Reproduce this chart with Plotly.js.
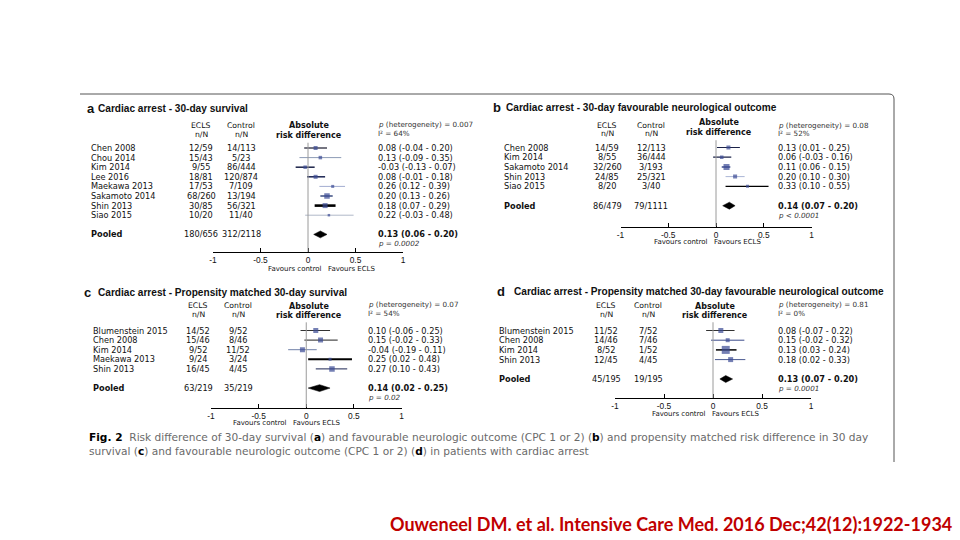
<!DOCTYPE html>
<html><head><meta charset="utf-8">
<script src="https://cdn.plot.ly/plotly-3.0.1.min.js"></script>
<style>body{margin:0;background:#fff}#chart{width:960px;height:540px}</style>
</head><body><div id="chart"></div>
<script>
// ---------- DATA ----------
// Panel a
const aTitle = "Cardiac arrest - 30-day survival";
const aStudies = ["Chen 2008","Chou 2014","Kim 2014","Lee 2016","Maekawa 2013","Sakamoto 2014","Shin 2013","Siao 2015"];
const aEcls = ["12/59","15/43","9/55","18/81","17/53","68/260","30/85","10/20"];
const aControl = ["14/113","5/23","86/444","120/874","7/109","13/194","56/321","11/40"];
const aEst = [0.08,0.13,-0.03,0.08,0.26,0.20,0.18,0.22];
const aLo = [-0.04,-0.09,-0.13,-0.01,0.12,0.13,0.07,-0.03];
const aHi = [0.20,0.35,0.07,0.18,0.39,0.26,0.29,0.48];
const aPooledN = ["180/656","312/2118"];
const aPooledRD = [0.13,0.06,0.20];
const aPooledP = "= 0.0002";
const aHet = ["= 0.007","64%"];
// Panel b
const bTitle = "Cardiac arrest - 30-day favourable neurological outcome";
const bStudies = ["Chen 2008","Kim 2014","Sakamoto 2014","Shin 2013","Siao 2015"];
const bEcls = ["14/59","8/55","32/260","24/85","8/20"];
const bControl = ["12/113","36/444","3/193","25/321","3/40"];
const bEst = [0.13,0.06,0.11,0.20,0.33];
const bLo = [0.01,-0.03,0.06,0.10,0.10];
const bHi = [0.25,0.16,0.15,0.30,0.55];
const bPooledN = ["86/479","79/1111"];
const bPooledRD = [0.14,0.07,0.20];
const bPooledP = "< 0.0001";
const bHet = ["= 0.08","52%"];
// Panel c
const cTitle = "Cardiac arrest - Propensity matched 30-day survival";
const cStudies = ["Blumenstein 2015","Chen 2008","Kim 2014","Maekawa 2013","Shin 2013"];
const cEcls = ["14/52","15/46","9/52","9/24","16/45"];
const cControl = ["9/52","8/46","11/52","3/24","4/45"];
const cEst = [0.10,0.15,-0.04,0.25,0.27];
const cLo = [-0.06,-0.02,-0.19,0.02,0.10];
const cHi = [0.25,0.33,0.11,0.48,0.43];
const cPooledN = ["63/219","35/219"];
const cPooledRD = [0.14,0.02,0.25];
const cPooledP = "= 0.02";
const cHet = ["= 0.07","54%"];
// Panel d
const dTitle = "Cardiac arrest - Propensity matched 30-day favourable neurological outcome";
const dStudies = ["Blumenstein 2015","Chen 2008","Kim 2014","Shin 2013"];
const dEcls = ["11/52","14/46","8/52","12/45"];
const dControl = ["7/52","7/46","1/52","4/45"];
const dEst = [0.08,0.15,0.13,0.18];
const dLo = [-0.07,-0.02,0.03,0.02];
const dHi = [0.22,0.32,0.24,0.33];
const dPooledN = ["45/195","19/195"];
const dPooledRD = [0.13,0.07,0.20];
const dPooledP = "= 0.0001";
const dHet = ["= 0.81","0%"];
// Axis ticks
const tickVals = [-1,-0.5,0,0.5,1];
const tickText = ["-1","-0.5","0","0.5","1"];
const caption1 = "<b style='color:#000'>Fig. 2</b>  Risk difference of 30-day survival (<b style='color:#000'>a</b>) and favourable neurologic outcome (CPC 1 or 2) (<b style='color:#000'>b</b>) and propensity matched risk difference in 30 day";
const caption2 = "survival (<b style='color:#000'>c</b>) and favourable neurologic outcome (CPC 1 or 2) (<b style='color:#000'>d</b>) in patients with cardiac arrest";
const citation = "Ouweneel DM. et al. Intensive Care Med. 2016 Dec;42(12):1922-1934";

// ---------- STYLES ----------
const aSize = [4,3.5,3.5,4,3,5.5,5,2.5];
const aLineC = ["#1a1a2e","#8d9bb5","#1b2248","#1b2452","#a3add0","#5c6a96","#000000","#b0b8c8"];
const aLineW = [1.2,1,1.5,1.5,1,1.8,2.6,1];
const bSize = [4,3.5,6,4,3];
const bLineC = ["#1b2248","#1b2248","#3b4a8a","#aab6d6","#000000"];
const bLineW = [1.2,1.2,1.5,1,1.2];
const cSize = [5,5,5,3,5.5];
const cLineC = ["#333333","#222222","#7080a8","#000000","#1b2452"];
const cLineW = [1,1,1,2,1];
const dSize = [5,4,8,5];
const dLineC = ["#333333","#3b4a8a","#000000","#4b5a90"];
const dLineW = [1,1,1.5,1];

const W = 960, H = 540;
const F = "'Liberation Sans', Arial, sans-serif";
const FD = "'DejaVu Sans', sans-serif";
const px = v => v / W, py = v => 1 - v / H;

const panels = [
  {id:"", letter:"a", title:aTitle, studies:aStudies, ecls:aEcls, ctrl:aControl, est:aEst, lo:aLo, hi:aHi,
   pooledN:aPooledN, pooledRD:aPooledRD, pooledP:aPooledP, het:aHet, size:aSize, lc:aLineC, lw:aLineW,
   xL:213, xR:403, y0:148, dy:9.6, yAxis:252, yTop:136, pIdx:9, zTop:-0.55,
   letterX:86, titleX:97, titleY:109, nameX:90, eclsX:201, ctrlX:241, absX:309, ciX:376.5,
   h1:125.5, h2:134.5, a1:125.5, a2:135, het1:124.5, het2:133.5, favX:325, favY:269},
  {id:"2", letter:"b", title:bTitle, studies:bStudies, ecls:bEcls, ctrl:bControl, est:bEst, lo:bLo, hi:bHi,
   pooledN:bPooledN, pooledRD:bPooledRD, pooledP:bPooledP, het:bHet, size:bSize, lc:bLineC, lw:bLineW,
   xL:620.5, xR:811.5, y0:147.5, dy:9.7, yAxis:226.5, yTop:136, pIdx:6, zTop:-0.75,
   letterX:492, titleX:505, titleY:108, nameX:502.5, eclsX:607, ctrlX:651, absX:719, ciX:777,
   h1:125, h2:134, a1:122.5, a2:132, het1:125, het2:134, favX:711, favY:242},
  {id:"3", letter:"c", title:cTitle, studies:cStudies, ecls:cEcls, ctrl:cControl, est:cEst, lo:cLo, hi:cHi,
   pooledN:cPooledN, pooledRD:cPooledRD, pooledP:cPooledP, het:cHet, size:cSize, lc:cLineC, lw:cLineW,
   xL:211, xR:401.5, y0:330.5, dy:9.6, yAxis:407.5, yTop:318, pIdx:6, zTop:-0.85,
   letterX:83, titleX:97, titleY:292, nameX:91.5, eclsX:198, ctrlX:238, absX:309, ciX:367,
   h1:305.5, h2:314.5, a1:306, a2:315.5, het1:304.5, het2:313.5, favX:290, favY:423},
  {id:"4", letter:"d", title:dTitle, studies:dStudies, ecls:dEcls, ctrl:dControl, est:dEst, lo:dLo, hi:dHi,
   pooledN:dPooledN, pooledRD:dPooledRD, pooledP:dPooledP, het:dHet, size:dSize, lc:dLineC, lw:dLineW,
   xL:615, xR:811, y0:330.5, dy:9.7, yAxis:398, yTop:318, pIdx:5, zTop:-0.85,
   letterX:496, titleX:513, titleY:291.5, nameX:498, eclsX:606, ctrlX:648, absX:715, ciX:777,
   h1:305.5, h2:314.5, a1:306, a2:315.5, het1:304.5, het2:313.5, favX:709, favY:414}
];

const traces = [], annotations = [], shapes = [];
const layout = {
  width: W, height: H, margin:{l:0,r:0,t:0,b:0}, showlegend:false,
  paper_bgcolor:"#fff", plot_bgcolor:"rgba(0,0,0,0)", font:{family:F}
};

function T(x, y, text, size, o) {
  o = o || {};
  annotations.push({xref:"paper", yref:"paper", x:px(x), y:py(y), text:text, showarrow:false,
    xanchor:o.anchor || "left", yanchor:"middle", borderpad:0,
    font:{family:o.family || F, size:size, color:o.color || "#111"}});
}
const fmt = v => v.toFixed(2);
const ciLabel = (e,l,h) => fmt(e) + " (" + fmt(l) + " - " + fmt(h) + ")";

panels.forEach(p => {
  const xa = "x" + p.id, ya = "y" + p.id;
  const yBottom = (p.yAxis - p.y0) / p.dy, yTopV = (p.yTop - p.y0) / p.dy;
  layout["xaxis" + p.id] = {domain:[px(p.xL), px(p.xR)], range:[-1,1], anchor:ya,
    tickvals:tickVals, ticktext:tickText, showline:true, linecolor:"#000", linewidth:1,
    ticks:"inside", ticklen:4, tickcolor:"#000", tickwidth:1, showgrid:false, zeroline:false,
    tickfont:{family:F, size:8.4, color:"#111"}, fixedrange:true};
  layout["yaxis" + p.id] = {domain:[py(p.yAxis), py(p.yTop)], range:[yBottom, yTopV], anchor:xa,
    visible:false, fixedrange:true};
  // zero line
  shapes.push({type:"line", xref:xa, yref:ya, x0:0, x1:0, y0:p.zTop, y1:yBottom,
    line:{color:"#9a9a9a", width:1}});
  // CI lines
  p.studies.forEach((s,i) => {
    traces.push({type:"scatter", mode:"lines", xaxis:xa, yaxis:ya, x:[p.lo[i], p.hi[i]], y:[i,i],
      line:{color:p.lc[i], width:p.lw[i]}, hoverinfo:"skip"});
  });
  // point estimates
  traces.push({type:"scatter", mode:"markers", xaxis:xa, yaxis:ya, x:p.est, y:p.studies.map((s,i)=>i),
    marker:{symbol:"square", size:p.size, color:"#3b4a94", line:{width:0}}, hoverinfo:"skip"});
  // pooled diamond
  const [pe, pl, ph] = p.pooledRD, k = p.pIdx, hh = 0.36;
  traces.push({type:"scatter", mode:"lines", xaxis:xa, yaxis:ya, x:[pl,pe,ph,pe,pl], y:[k,k-hh,k,k+hh,k],
    fill:"toself", fillcolor:"#000", line:{color:"#000", width:0.5}, hoverinfo:"skip"});

  // texts
  T(p.letterX, p.titleY, "<b>" + p.letter + "</b>", 13);
  T(p.titleX, p.titleY, "<b>" + p.title + "</b>", 10.1);
  T(p.eclsX, p.h1, "ECLS", 7.7, {anchor:"center", family:FD});
  T(p.eclsX, p.h2, "n/N", 7.7, {anchor:"center", family:FD});
  T(p.ctrlX, p.h1, "Control", 7.7, {anchor:"center", family:FD});
  T(p.ctrlX, p.h2, "n/N", 7.7, {anchor:"center", family:FD});
  T(p.absX, p.a1, "<b>Absolute</b>", 8, {anchor:"center", family:FD});
  T(p.absX, p.a2, "<b>risk difference</b>", 8, {anchor:"center", family:FD});
  T(p.ciX, p.het1, "<i>p</i> (heterogeneity) " + p.het[0], 7.2, {color:"#333", family:FD});
  T(p.ciX, p.het2, "I\u00b2 = " + p.het[1], 7.2, {color:"#333", family:FD});
  p.studies.forEach((s,i) => {
    const y = p.y0 + i * p.dy;
    T(p.nameX, y, s, 8.2, {family:FD});
    T(p.eclsX, y, p.ecls[i], 8.2, {anchor:"center", family:FD});
    T(p.ctrlX, y, p.ctrl[i], 8.2, {anchor:"center", family:FD});
    T(p.ciX, y, ciLabel(p.est[i], p.lo[i], p.hi[i]), 8.2, {family:FD});
  });
  const yp = p.y0 + k * p.dy;
  T(p.nameX, yp, "<b>Pooled</b>", 8.2, {family:FD});
  T(p.eclsX, yp, p.pooledN[0], 8.2, {anchor:"center", family:FD});
  T(p.ctrlX, yp, p.pooledN[1], 8.2, {anchor:"center", family:FD});
  T(p.ciX, yp, "<b>" + ciLabel(pe, pl, ph) + "</b>", 8.2, {family:FD});
  T(p.ciX, yp + 9.4, "<i>p " + p.pooledP + "</i>", 7.2, {color:"#333", family:FD});
  T(p.favX - 2, p.favY, "Favours control", 7, {anchor:"right", family:FD});
  T(p.favX + 2, p.favY, "Favours ECLS", 7, {family:FD});
});

// caption and citation
T(88, 437, caption1, 10.6, {family:FD, color:"#6a6a6a"});
T(88, 450.5, caption2, 10.6, {family:FD, color:"#6a6a6a"});
T(953, 524, "<b>" + citation + "</b>", 18, {anchor:"right", family:"Lato, sans-serif", color:"#c00000"});

// figure frame (top edge with rounded corner and right edge)
shapes.push({type:"path", xref:"paper", yref:"paper",
  path:"M " + px(80) + " " + py(94) + " L " + px(889) + " " + py(94) +
       " Q " + px(894) + " " + py(94) + " " + px(894) + " " + py(99) +
       " L " + px(894) + " " + py(462),
  line:{color:"#555", width:1}});

layout.annotations = annotations;
layout.shapes = shapes;
Plotly.newPlot("chart", traces, layout, {staticPlot:true, displayModeBar:false});
</script>
</body></html>
